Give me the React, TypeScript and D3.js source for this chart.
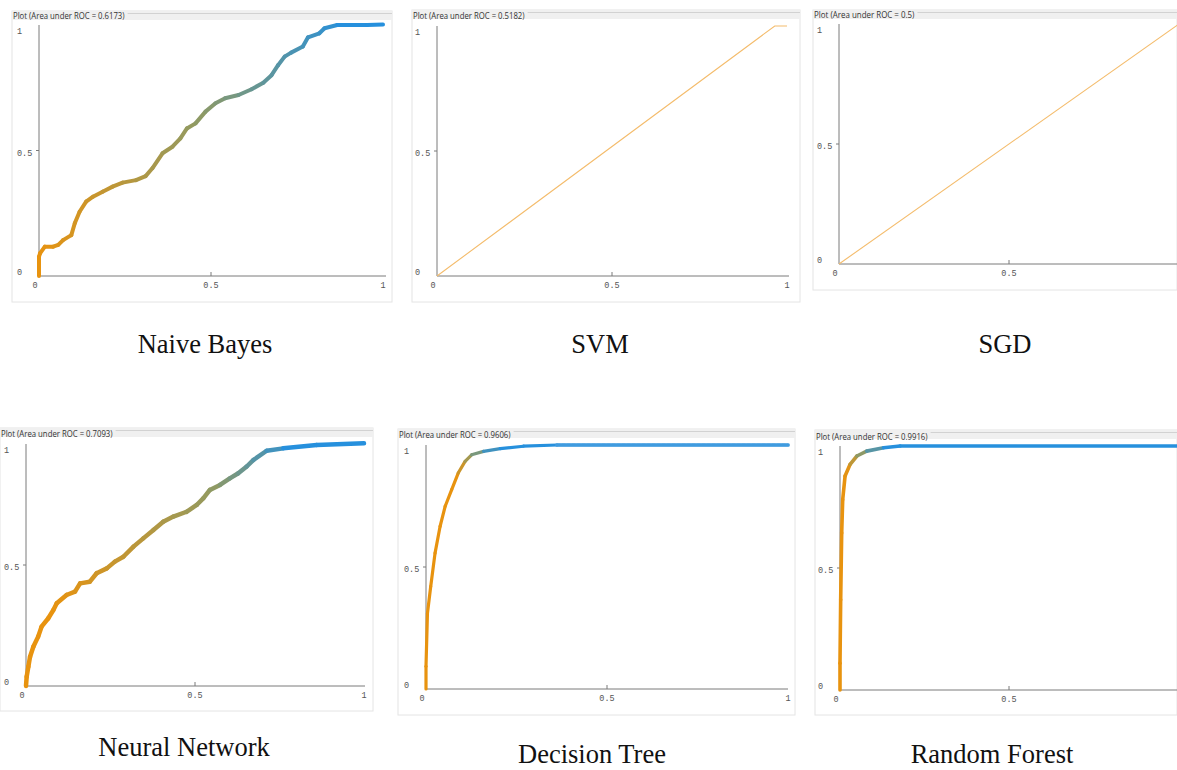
import React from 'react';
import * as d3 from 'd3';

// captions and titles
const modelNames = ['Naive Bayes', 'SVM', 'SGD', 'Neural Network', 'Decision Tree', 'Random Forest'];
const aucValues = ['0.6173', '0.5182', '0.5', '0.7093', '0.9606', '0.9916'];
const axisTicks = [0, 0.5, 1];
const tickLabels = ['0', '0.5', '1'];

// ROC points [false positive rate, true positive rate]
const naiveBayesRoc = [
  [0, 0], [0, 0.077], [0.003, 0.09], [0.017, 0.117], [0.041, 0.117], [0.056, 0.124], [0.07, 0.143],
  [0.094, 0.163], [0.104, 0.21], [0.118, 0.256], [0.137, 0.296], [0.157, 0.316], [0.185, 0.336],
  [0.214, 0.356], [0.243, 0.372], [0.282, 0.382], [0.31, 0.398], [0.33, 0.43], [0.359, 0.489],
  [0.388, 0.515], [0.411, 0.548], [0.43, 0.588], [0.455, 0.608], [0.484, 0.655], [0.513, 0.688],
  [0.541, 0.708], [0.58, 0.721], [0.618, 0.744], [0.652, 0.77], [0.676, 0.8], [0.695, 0.84],
  [0.714, 0.874], [0.733, 0.89], [0.767, 0.914], [0.782, 0.951], [0.815, 0.967], [0.83, 0.987],
  [0.867, 1.0], [0.954, 1.0], [1, 1.002]
];
const svmRoc = [[0, 0], [0.965, 1], [1, 1]];
const sgdRoc = [[0, 0], [1, 1]];
const neuralNetRoc = [
  [0, 0], [0.002, 0.039], [0.007, 0.08], [0.012, 0.121], [0.022, 0.163], [0.036, 0.204], [0.046, 0.245],
  [0.066, 0.28], [0.081, 0.314], [0.091, 0.342], [0.12, 0.376], [0.145, 0.39], [0.16, 0.424],
  [0.189, 0.431], [0.209, 0.466], [0.239, 0.486], [0.263, 0.514], [0.288, 0.534], [0.318, 0.576],
  [0.347, 0.61], [0.377, 0.645], [0.406, 0.679], [0.436, 0.7], [0.475, 0.72], [0.505, 0.748],
  [0.525, 0.776], [0.544, 0.81], [0.574, 0.831], [0.603, 0.858], [0.628, 0.879], [0.653, 0.907],
  [0.673, 0.934], [0.712, 0.972], [0.761, 0.982], [0.86, 0.996], [1, 1.003]
];
const decisionTreeRoc = [
  [0, 0], [0, 0.093], [0.004, 0.31], [0.013, 0.42], [0.025, 0.557], [0.039, 0.667], [0.053, 0.749],
  [0.071, 0.817], [0.089, 0.885], [0.108, 0.933], [0.126, 0.96], [0.159, 0.974], [0.205, 0.985],
  [0.269, 0.995], [0.362, 1.0], [1, 1.0]
];
const randomForestRoc = [
  [0, 0], [0, 0.11], [0.002, 0.37], [0.005, 0.644], [0.008, 0.78], [0.015, 0.877], [0.03, 0.925],
  [0.05, 0.959], [0.079, 0.979], [0.129, 0.993], [0.178, 1.0], [1, 1.0]
];
const rocSeries = [naiveBayesRoc, svmRoc, sgdRoc, neuralNetRoc, decisionTreeRoc, randomForestRoc];

// layout of each screenshot panel (page pixels)
const panels = [
  { box: [12, 11, 380, 291], plot: [39, 383, 276, 25], axisEnd: 386, title: 15, cap: [205, 353], width: 4, colors: [0.0, 0.45, 0.9] },
  { box: [412, 10, 388, 292], plot: [437, 787, 276, 26], axisEnd: 789, title: 15, cap: [600, 353], width: 1.1, colors: null },
  { box: [813, 10, 364, 280], plot: [839, 1179, 264, 24], axisEnd: 1177, title: 14.5, cap: [1005, 353], width: 1.1, colors: null },
  { box: [0, 428, 373, 283], plot: [26, 364, 686, 444], axisEnd: 365, title: 433, cap: [184, 756], width: 4.5, colors: [0.08, 0.55, 0.8] },
  { box: [398, 429, 397, 286], plot: [426, 788, 689, 445], axisEnd: 788, title: 434, cap: [592, 763], width: 3.2, colors: [0.085, 0.125, 0.2] },
  { box: [815, 430, 362, 285], plot: [840, 1178, 690, 446], axisEnd: 1177, title: 436, cap: [992, 763], width: 3.6, colors: [0.02, 0.06, 0.14] }
];

const ORANGE = '#e8930f';
const OLIVE = '#939a60';
const BLUE = '#2690dd';

function RocPanel({ idx }) {
  const p = panels[idx];
  const data = rocSeries[idx];
  const [bx, by, bw, bh] = p.box;
  const [left, right, bottom, top] = p.plot;
  const x = d3.scaleLinear().domain([0, 1]).range([left, right]);
  const y = d3.scaleLinear().domain([0, 1]).range([bottom, top]);
  const titleText = `Plot (Area under ROC = ${aucValues[idx]})`;
  const titleW = titleText.length * 3.72;
  const titleX = bx + 1;
  const line = d3.line().x(d => x(d[0])).y(d => y(d[1]));
  // the screenshot crops tick labels that fall past its right edge
  const xTicks = axisTicks.filter(t => x(t) < bx + bw - 4);

  let curve;
  if (!p.colors) {
    curve = <path d={line(data)} fill="none" stroke="#f4bc6c" strokeWidth={p.width} />;
  } else {
    const color = d3.scaleLinear().domain(p.colors).range([ORANGE, OLIVE, BLUE]).clamp(true);
    curve = (
      <g strokeLinecap="round">
        {d3.pairs(data).map(([a, b], i) => (
          <line
            key={i}
            x1={x(a[0])}
            y1={y(a[1])}
            x2={x(b[0])}
            y2={y(b[1])}
            stroke={color((a[0] + b[0]) / 2)}
            strokeWidth={p.width}
          />
        ))}
        {idx === 4 && (
          <path
            d={line(data.slice(-2))}
            fill="none"
            stroke="#4aa0e0"
            strokeWidth={4}
            strokeDasharray="3 2"
            opacity={0.7}
          />
        )}
      </g>
    );
  }

  return (
    <g className="rocPanel">
      <defs>
        <clipPath id={`clip${idx}`}>
          <rect x={bx} y={by} width={bw} height={bh} />
        </clipPath>
      </defs>
      <rect x={bx} y={by} width={bw} height={bh} fill="#fff" stroke="#e4e4e4" />
      <rect x={bx} y={by} width={bw} height={9} fill="#f0f0f0" />
      <line x1={titleX + titleW + 3} x2={bx + bw} y1={by + 2.5} y2={by + 2.5} stroke="#d2d2d2" />
      <text
        x={titleX}
        y={p.title}
        dominantBaseline="central"
        textLength={titleW}
        lengthAdjust="spacingAndGlyphs"
        style={{ fontFamily: '"Open Sans", sans-serif', fontSize: 8.4, fill: '#333' }}
      >
        {titleText}
      </text>
      <g clipPath={`url(#clip${idx})`}>
        <line x1={left} x2={left} y1={top} y2={bottom} stroke="#7a7a7a" />
        <line x1={left} x2={p.axisEnd} y1={bottom} y2={bottom} stroke="#7a7a7a" />
        <line x1={left - 3} x2={left} y1={y(0.5)} y2={y(0.5)} stroke="#7a7a7a" />
        <line x1={x(0.5)} x2={x(0.5)} y1={bottom - 4} y2={bottom} stroke="#7a7a7a" />
        {axisTicks.map((t, i) => (
          <text
            key={'y' + i}
            x={left - 22}
            y={t === 1 ? top + 7 : t === 0 ? bottom - 3 : y(t) + 3}
            dominantBaseline="central"
            style={{ fontFamily: '"Liberation Mono", monospace', fontSize: 8.5, fill: '#555' }}
          >
            {tickLabels[i]}
          </text>
        ))}
        {xTicks.map(t => (
          <text
            key={'x' + t}
            x={t === 0 ? x(t) - 4 : x(t)}
            y={bottom + 10}
            textAnchor="middle"
            dominantBaseline="central"
            style={{ fontFamily: '"Liberation Mono", monospace', fontSize: 8.5, fill: '#555' }}
          >
            {tickLabels[axisTicks.indexOf(t)]}
          </text>
        ))}
        {curve}
      </g>
      <text
        x={p.cap[0]}
        y={p.cap[1]}
        textAnchor="middle"
        style={{ fontFamily: '"Liberation Serif", "Times New Roman", serif', fontSize: 26.5, fill: '#111' }}
      >
        {modelNames[idx]}
      </text>
    </g>
  );
}

export default function App() {
  return (
    <svg
      width={1177}
      height={770}
      style={{ position: 'absolute', left: 0, top: 0, background: '#fff' }}
    >
      <rect width={1177} height={770} fill="#fff" />
      {panels.map((p, i) => (
        <RocPanel key={i} idx={i} />
      ))}
    </svg>
  );
}
